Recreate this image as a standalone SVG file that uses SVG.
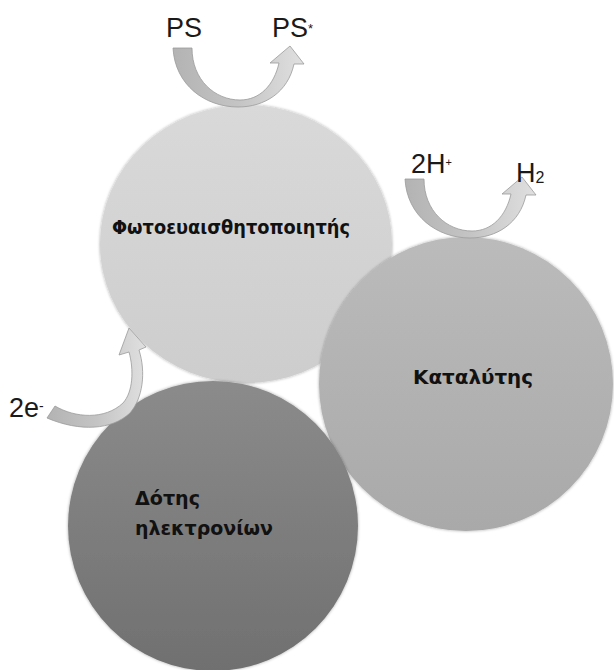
<svg xmlns="http://www.w3.org/2000/svg" width="614" height="670" viewBox="0 0 614 670">
<defs>
<linearGradient id="gLight" x1="0" y1="0" x2="0" y2="1"><stop offset="0" stop-color="#d9d9d9"/><stop offset="1" stop-color="#cdcdcd"/></linearGradient>
<linearGradient id="gMid" x1="0" y1="0" x2="0" y2="1"><stop offset="0" stop-color="#bbbbbb"/><stop offset="1" stop-color="#a9a9a9"/></linearGradient>
<linearGradient id="gDark" x1="0" y1="0" x2="0" y2="1"><stop offset="0" stop-color="#8b8b8b"/><stop offset="1" stop-color="#707070"/></linearGradient>
<linearGradient id="gArrow" x1="0" y1="0" x2="1" y2="0"><stop offset="0" stop-color="#b3b3b3"/><stop offset="0.5" stop-color="#c4c4c4"/><stop offset="1" stop-color="#e0e0e0"/></linearGradient>
<filter id="sh" x="-10%" y="-10%" width="120%" height="120%"><feDropShadow dx="0" dy="0" stdDeviation="1.5" flood-color="#000" flood-opacity="0.35"/></filter>
</defs>
<style>
.node-text{font-family:"DejaVu Sans Condensed","DejaVu Sans",sans-serif;font-weight:bold;font-size:20px;fill:#111}
.lbl{font-family:"Liberation Sans",Arial,sans-serif;font-size:27px;fill:#1a1a1a}
.arrow{fill:url(#gArrow);stroke:#9a9a9a;stroke-width:0.8}
</style>
<g id="photosensitizer">
<ellipse cx="246" cy="244" rx="146" ry="139" fill="url(#gLight)" filter="url(#sh)"/>
<text class="node-text" x="112" y="234" textLength="238" lengthAdjust="spacingAndGlyphs">Φωτοευαισθητοποιητής</text>
</g>
<g id="catalyst">
<circle cx="466" cy="384" r="147" fill="url(#gMid)" filter="url(#sh)"/>
<text class="node-text" x="413" y="384" textLength="120" lengthAdjust="spacingAndGlyphs">Καταλύτης</text>
</g>
<g id="donor">
<circle cx="213" cy="526" r="145" fill="url(#gDark)" filter="url(#sh)"/>
<text class="node-text" x="135" y="505" textLength="65" lengthAdjust="spacingAndGlyphs">Δότης</text>
<text class="node-text" x="135" y="535" textLength="138" lengthAdjust="spacingAndGlyphs">ηλεκτρονίων</text>
</g>
<g id="connectors">
<path class="arrow" d="M173,48 L192,48 C192,80 215,100 240,100 C260,100 274,85 279,63 L270,63 L290,46 L304,64 L294,64 C288,92 265,107 238,107 C205,107 175,85 173,48 Z"/>
<path class="arrow" transform="translate(232,131)" d="M173,48 L192,48 C192,80 215,100 240,100 C260,100 274,85 279,63 L270,63 L290,46 L304,64 L294,64 C288,92 265,107 238,107 C205,107 175,85 173,48 Z"/>
<path class="arrow" d="M55,406 C75,418 105,420 123,403 C133,392 134,370 129,352 L119,355 L129,328 L146,347 L139,350 C146,372 143,398 130,413 C112,430 80,432 47,418 Z"/>
</g>
<g id="labels">
<text class="lbl" x="166" y="37">PS</text>
<text class="lbl" x="272" y="37">PS<tspan font-size="13" dy="-4">*</tspan></text>
<text class="lbl" x="411" y="173">2H<tspan font-size="11" dy="-7">+</tspan></text>
<text class="lbl" x="516" y="182">H<tspan font-size="16" dy="1">2</tspan></text>
<text class="lbl" x="9" y="417">2e<tspan font-size="14" dy="-6">-</tspan></text>
</g>
</svg>
